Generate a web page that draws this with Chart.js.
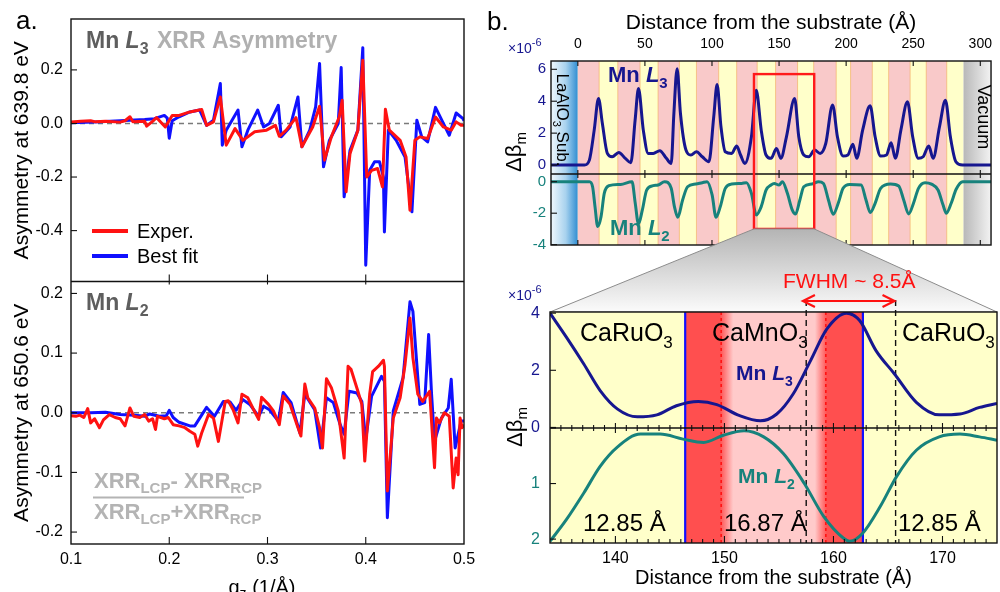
<!DOCTYPE html>
<html>
<head>
<meta charset="utf-8">
<script src="https://cdn.jsdelivr.net/npm/chart.js@4.4.1/dist/chart.umd.min.js"></script>
<style>
  body { margin: 0; background: #fff; }
  #fig { position: relative; width: 1000px; height: 592px; overflow: hidden; }
  #fig canvas { position: absolute; left: 0; top: 0; }
</style>
</head>
<body>
<div id="fig">
  <canvas id="asym" width="1000" height="592"></canvas>
  <canvas id="profile" width="1000" height="592"></canvas>
  <canvas id="closeup" width="1000" height="592"></canvas>
</div>
<script>
// ---- panel a: XRR asymmetry vs q_z ----
const qExpL3 = [0.100,0.110,0.120,0.125,0.135,0.150,0.155,0.160,0.163,0.175,0.177,0.183,0.187,0.190,0.196,0.203,0.210,0.221,0.233,0.238,0.245,0.252,0.258,0.267,0.275,0.287,0.299,0.308,0.312,0.319,0.329,0.335,0.346,0.353,0.358,0.365,0.373,0.376,0.380,0.384,0.392,0.397,0.401,0.406,0.412,0.417,0.420,0.424,0.435,0.441,0.445,0.450,0.455,0.463,0.471,0.479,0.487,0.492,0.497,0.500];
const asymExpL3 = [0.005,0.008,0.010,0.006,0.008,0.005,0.010,0.025,0.006,0.008,-0.010,0.008,0.022,0.010,-0.013,0.030,0.030,0.043,0.052,-0.007,0.006,0.099,-0.081,-0.019,-0.063,-0.031,-0.025,-0.007,-0.048,-0.025,0.022,-0.087,-0.013,0.064,-0.137,-0.050,0.024,0.087,-0.255,-0.112,-0.025,0.236,-0.200,-0.175,-0.168,-0.237,0.053,-0.025,-0.063,-0.125,-0.324,-0.063,-0.050,-0.056,0.024,-0.013,-0.025,0.006,-0.007,-0.007];
const qFitL3 = [0.100,0.130,0.160,0.175,0.185,0.195,0.198,0.200,0.203,0.210,0.221,0.231,0.238,0.245,0.252,0.254,0.258,0.270,0.274,0.280,0.290,0.296,0.302,0.311,0.314,0.323,0.331,0.335,0.343,0.349,0.353,0.357,0.363,0.372,0.375,0.378,0.384,0.392,0.397,0.400,0.404,0.409,0.414,0.418,0.419,0.423,0.431,0.440,0.447,0.452,0.457,0.463,0.471,0.479,0.485,0.492,0.499,0.500];
const asymFitL3 = [0.003,0.006,0.012,0.015,0.018,0.030,0.020,-0.055,0.010,0.025,0.043,0.050,-0.007,0.012,0.149,-0.081,-0.025,0.050,-0.087,-0.025,0.050,-0.013,0.000,0.068,-0.050,-0.013,0.099,-0.087,-0.025,0.062,0.224,-0.162,-0.063,0.000,0.209,-0.274,-0.100,-0.025,0.283,-0.529,-0.175,-0.143,-0.143,-0.200,-0.405,-0.025,-0.063,-0.125,-0.330,0.012,-0.050,-0.069,0.060,0.000,-0.044,0.039,0.018,0.010];
const qExpL2 = [0.100,0.105,0.109,0.113,0.117,0.120,0.124,0.129,0.133,0.139,0.145,0.150,0.155,0.160,0.164,0.170,0.175,0.179,0.183,0.186,0.188,0.195,0.199,0.204,0.210,0.216,0.221,0.226,0.229,0.233,0.240,0.245,0.250,0.257,0.260,0.265,0.270,0.274,0.280,0.285,0.291,0.294,0.301,0.306,0.312,0.316,0.323,0.330,0.334,0.338,0.341,0.348,0.353,0.356,0.360,0.365,0.372,0.378,0.382,0.385,0.392,0.396,0.399,0.404,0.407,0.413,0.418,0.419,0.422,0.428,0.435,0.440,0.445,0.448,0.453,0.458,0.465,0.470,0.472,0.475,0.480,0.485,0.489,0.492,0.494,0.496,0.498,0.500];
const asymExpL2 = [-0.005,-0.006,-0.004,-0.008,0.007,-0.017,-0.010,-0.025,-0.012,-0.003,-0.008,-0.010,-0.022,0.008,-0.006,-0.008,-0.003,-0.014,-0.010,-0.028,-0.006,-0.010,-0.008,-0.020,-0.022,-0.025,-0.031,-0.036,-0.056,-0.034,-0.003,-0.009,-0.048,0.019,0.020,0.005,-0.017,0.031,0.025,0.008,-0.011,0.026,0.014,0.003,-0.020,0.028,0.014,-0.020,-0.039,0.048,0.025,0.008,-0.025,-0.059,0.057,0.042,0.003,-0.076,0.078,0.073,0.036,0.014,-0.081,0.031,0.069,0.078,0.088,0.078,-0.131,-0.009,0.025,0.081,0.159,0.092,0.031,0.019,0.036,-0.092,-0.009,-0.017,0.000,-0.006,-0.126,-0.076,-0.104,-0.009,-0.025,-0.020];
const qFitL2 = [0.100,0.120,0.135,0.150,0.165,0.175,0.180,0.190,0.197,0.200,0.204,0.210,0.221,0.226,0.231,0.238,0.246,0.255,0.262,0.268,0.275,0.282,0.291,0.296,0.302,0.311,0.316,0.324,0.333,0.338,0.348,0.354,0.360,0.367,0.374,0.378,0.383,0.391,0.396,0.400,0.406,0.416,0.419,0.422,0.428,0.438,0.445,0.448,0.455,0.460,0.464,0.467,0.470,0.477,0.484,0.487,0.491,0.497,0.500];
const asymFitL2 = [0.000,0.000,0.001,-0.003,-0.004,-0.006,-0.002,-0.006,-0.005,0.004,-0.008,-0.016,-0.022,-0.022,-0.009,0.009,-0.006,0.019,0.018,0.004,0.022,0.014,-0.006,0.011,0.005,-0.014,0.034,0.017,-0.034,0.031,0.005,-0.059,0.025,0.017,-0.020,-0.036,0.036,0.033,0.019,-0.045,0.028,0.061,0.053,-0.176,0.003,0.059,0.186,0.170,0.014,0.017,0.131,0.031,-0.048,-0.009,0.008,0.056,-0.059,-0.014,-0.014];

// ---- panel b (top): magnetic depth profile, Å ----
const distL3 = [-20,4.9,8.6,12.2,15.4,18.3,22.0,25.6,30.5,35.4,39.5,42.7,45.2,48.8,52.5,56.2,61.1,66.0,69.6,71.6,74.0,76.5,80.6,84.3,88.4,92.8,97.7,101.3,103.8,106.7,109.9,114.7,118.4,121.3,124.5,129.4,133.0,136.7,140.3,144.0,148.1,151.3,155.5,161.6,164.7,168.4,172.1,176.5,180.6,184.8,189.9,193.5,197.7,201.3,205.0,207.9,212.3,217.9,221.6,225.7,230.1,233.5,236.7,240.8,245.7,249.6,253.8,257.4,261.6,264.8,269.6,274.0,277.7,281.8,286.7,308];
const dbL3 = [0,0,0.31,2.19,4.17,2.6,0.73,0.52,0.79,0.42,0.15,2.81,4.79,2.19,0.73,0.73,0.9,0.42,0.1,3.23,6.04,3.23,0.94,0.63,0.83,0.52,0.21,3.02,5.04,2.4,0.83,0.73,1.19,0.63,0.1,1.77,4.69,2.19,0.63,0.42,1.04,0.42,1.77,4.17,1.77,0.63,0.52,0.94,0.73,1.35,3.77,1.77,0.56,0.63,1.31,0.42,2.19,3.71,1.77,0.56,0.63,1.4,0.42,2.19,3.96,1.77,0.42,0.52,1.19,0.42,2.4,4.06,1.77,0.21,0,0];
const distL2 = [-20,8.6,11.0,12.8,14.8,17.3,19.7,23.3,31.9,40.4,42.8,45.2,48.1,51.3,56.2,59.8,64.7,69.6,72.0,74.5,78.1,81.8,87.9,92.8,96.4,100.1,103.0,106.2,109.9,114.7,122.1,125.7,129.4,133.0,136.7,140.3,144.0,146.4,150.0,152.5,156.2,159.8,162.3,165.5,168.4,174.5,179.4,183.1,186.8,190.4,194.1,197.7,202.6,211.2,214.8,218.0,221.6,225.7,233.1,239.2,242.9,246.6,250.2,253.9,258.8,263.6,268.5,272.2,274.7,278.3,282.0,286.9,308];
const dbL2 = [0,0,-0.32,-1.58,-2.85,-2.22,-0.74,-0.25,-0.17,0,-1.37,-2.68,-1.79,-0.53,-0.25,-0.21,0,-0.42,-1.58,-2.26,-1.16,-0.32,-0.15,-0.06,0,-0.84,-2.26,-1.58,-0.42,-0.15,-0.11,-0.06,-0.74,-2.11,-1.58,-0.53,-0.21,-0.11,-0.21,0,-0.74,-1.79,-2.05,-1.16,-0.32,-0.15,0,-0.11,-1.16,-2.07,-1.37,-0.42,-0.17,-0.21,-1.16,-1.96,-1.37,-0.42,-0.15,-0.27,-1.16,-2.05,-1.37,-0.42,-0.06,-0.15,-0.53,-1.47,-2.0,-1.37,-0.48,0,0];
const cmoStart = [0,29.8,59.8,88.4,118.4,147.4,175.8,203.3,231.7,259.7];
const cmoEnd = [15.9,46.4,75.7,105.0,133.7,163.8,192.6,219.5,247.7,275.0];
const filmTop = 287.5;

// ---- panel b (bottom): close-up of one CaMnO3 layer ----
const zDistL3 = [134,135.5,137.1,138.6,140.2,142.0,143.8,145.6,147.6,149.3,151.4,153.3,154.8,156.3,157.9,159.4,161.2,162.4,163.9,165.6,167.6,169.7,171.6,173.4,175];
const zL3 = [4.0,3.16,2.22,1.29,0.64,0.37,0.44,0.76,0.91,0.8,0.41,0.23,0.47,1.17,2.34,3.45,4.0,3.74,2.69,1.87,0.88,0.44,0.47,0.7,0.84];
const zDistL2 = [134,135.5,137.1,138.6,140.2,142.3,144.1,146.2,148.1,149.9,151.8,153.6,155.4,157.3,159.1,160.9,161.5,162.7,164.3,165.8,167.6,169.7,171.6,173.4,175];
const zL2 = [2.04,1.65,1.17,0.69,0.34,0.11,0.11,0.2,0.26,0.13,0.05,0.16,0.46,0.99,1.59,1.98,2.04,1.89,1.41,0.87,0.4,0.16,0.11,0.16,0.22];
const zoomCMO = [146.4, 162.7];
const zoomFade = [149.6, 150.8, 158.3, 159.4];
const redDotted = [149.7, 159.3];
const fwhmMarks = [157.5, 165.7];
const zoomWin = [131.3, 176.2];

const FAM = '"Liberation Sans", Arial, Helvetica, sans-serif';
const F = (size, style = '') => `${style} ${size}px ${FAM}`;
const RED = '#ff1212', BLUE = '#1010ff', NAVY = '#16168f', TEAL = '#17827c';
const YELLOW = '#ffffca', PINK = '#f9c9c9', RED_L = '#ff4f4f', PINK_L = '#ffcaca';
Chart.defaults.font.family = FAM;

const pts = (xs, ys) => xs.map((x, i) => ({x, y: ys[i]}));

function rich(ctx, x, y, parts, opt = {}) {
  ctx.save();
  ctx.translate(x, y);
  if (opt.rot) ctx.rotate(opt.rot);
  let w = 0;
  parts.forEach(p => { ctx.font = p[1]; w += ctx.measureText(p[0]).width; });
  let cx = opt.align === 'center' ? -w / 2 : 0;
  ctx.textBaseline = 'alphabetic';
  ctx.textAlign = 'left';
  ctx.fillStyle = opt.color || '#000';
  parts.forEach(p => {
    ctx.font = p[1];
    ctx.fillText(p[0], cx, p[2] || 0);
    cx += ctx.measureText(p[0]).width;
  });
  ctx.restore();
}

function mnLabel(ctx, x, y, edge, size, color) {
  rich(ctx, x, y, [['Mn ', F(size, 'bold')], ['L', F(size, 'italic bold')],
    [edge, F(Math.round(size * 0.68), 'bold'), size * 0.27]], {color});
}

function seg(ctx, x1, y1, x2, y2) {
  ctx.beginPath(); ctx.moveTo(x1, y1); ctx.lineTo(x2, y2); ctx.stroke();
}

function frame(chart, topId, botId) {
  const {ctx, chartArea: a, scales} = chart;
  ctx.save();
  ctx.strokeStyle = '#111'; ctx.lineWidth = 1.4;
  ctx.strokeRect(a.left, a.top, a.width, a.height);
  seg(ctx, a.left, scales[topId].bottom, a.right, scales[topId].bottom);
  ctx.lineWidth = 1.1;
  [topId, botId].forEach(id => scales[id].ticks.forEach(t => {
    const p = scales[id].getPixelForValue(t.value);
    seg(ctx, a.left, p, a.left + 6, p);
  }));
  ctx.restore();
}

function xMarks(chart, values, marks) {
  const {ctx, scales: {x}} = chart;
  ctx.save();
  ctx.strokeStyle = '#111'; ctx.lineWidth = 1.1;
  values.forEach(v => {
    const p = x.getPixelForValue(v);
    marks.forEach(([y, up, dn]) => seg(ctx, p, y - up, p, y + dn));
  });
  ctx.restore();
}

function yAxis(opt) {
  return Object.assign({
    type: 'linear', position: 'left',
    grid: {display: false, drawTicks: false},
    border: {display: false}
  }, opt);
}

const lineSet = (data, yAxisID, color, smooth) => ({
  data, yAxisID, borderColor: color, borderWidth: 3, pointRadius: 0,
  borderJoinStyle: 'round', fill: false,
  cubicInterpolationMode: smooth ? 'monotone' : 'default', tension: 0
});

const baseOptions = {
  responsive: false, animation: false, events: [],
  plugins: {legend: {display: false}, tooltip: {enabled: false}}
};

// ---------- panel a ----------
const asymDecor = {
  id: 'asymDecor',
  beforeDatasetsDraw(chart) {
    const {ctx, chartArea: a, scales} = chart;
    ctx.save();
    ctx.strokeStyle = '#7a7a7a'; ctx.lineWidth = 1.4; ctx.setLineDash([5, 4]);
    ['yL3', 'yL2'].forEach(id => {
      const y = scales[id].getPixelForValue(0);
      seg(ctx, a.left, y, a.right, y);
    });
    ctx.restore();
  },
  afterDatasetsDraw(chart) {
    frame(chart, 'yL3', 'yL2');
    const {chartArea: a, scales} = chart;
    xMarks(chart, [0.2, 0.3, 0.4], [[scales.yL3.bottom, 7, 3], [a.bottom, 7, 0]]);
  },
  afterDraw(chart) {
    const {ctx} = chart;
    rich(ctx, 16, 29, [['a.', F(26)]]);
    mnLabel(ctx, 86, 48, '3', 23, '#5e5e5e');
    rich(ctx, 157, 48, [['XRR Asymmetry', F(23, 'bold')]], {color: '#b0b0b0'});
    mnLabel(ctx, 86, 310, '2', 23, '#5e5e5e');
    // legend
    ctx.save();
    ctx.lineWidth = 4;
    ctx.strokeStyle = RED; seg(ctx, 92, 231, 128, 231);
    ctx.strokeStyle = BLUE; seg(ctx, 92, 256, 128, 256);
    ctx.restore();
    rich(ctx, 137, 238, [['Exper.', F(20)]]);
    rich(ctx, 137, 263, [['Best fit', F(20)]]);
    // asymmetry definition
    const g = '#b4b4b4', big = F(22, 'bold'), sub = F(15, 'bold');
    rich(ctx, 94, 488, [['XRR', big], ['LCP', sub, 5], ['- ', big], ['XRR', big], ['RCP', sub, 5]], {color: g});
    rich(ctx, 94, 519, [['XRR', big], ['LCP', sub, 5], ['+', big], ['XRR', big], ['RCP', sub, 5]], {color: g});
    ctx.save(); ctx.strokeStyle = g; ctx.lineWidth = 2; seg(ctx, 93, 497.5, 244, 497.5); ctx.restore();
    rich(ctx, 262, 594, [['q', F(20)], ['z', F(14), 4], [' (1/Å)', F(20)]], {align: 'center'});
  }
};

const yTickA = size => ({font: {size}, color: '#000', padding: 8, includeBounds: false, callback: v => v.toFixed(1)});

new Chart(document.getElementById('asym'), {
  type: 'line',
  data: {datasets: [
    lineSet(pts(qExpL3, asymExpL3), 'yL3', RED),
    lineSet(pts(qFitL3, asymFitL3), 'yL3', BLUE),
    lineSet(pts(qExpL2, asymExpL2), 'yL2', RED),
    lineSet(pts(qFitL2, asymFitL2), 'yL2', BLUE)
  ]},
  options: Object.assign({}, baseOptions, {
    layout: {padding: {left: 0, top: 19, right: 536, bottom: 0}},
    scales: {
      x: {type: 'linear', min: 0.1, max: 0.5,
        afterFit: s => { s.height = 48; },
        grid: {display: false, drawTicks: false}, border: {display: false},
        ticks: {stepSize: 0.1, padding: 6, font: {size: 16}, color: '#000', callback: v => v.toFixed(1)}},
      yL2: yAxis({stack: 'a', stackWeight: 1, min: -0.22, max: 0.22,
        afterFit: s => { s.width = 71; },
        ticks: Object.assign(yTickA(16), {stepSize: 0.1}),
        title: {display: true, text: 'Asymmetry at 650.6 eV', font: {size: 21}, color: '#000', padding: {top: 10, bottom: 0}}}),
      yL3: yAxis({stack: 'a', stackWeight: 1, min: -0.59, max: 0.39,
        afterFit: s => { s.width = 71; },
        ticks: Object.assign(yTickA(16), {stepSize: 0.2}),
        title: {display: true, text: 'Asymmetry at 639.8 eV', font: {size: 21}, color: '#000', padding: {top: 10, bottom: 0}}})
    }
  }),
  plugins: [asymDecor]
});

// ---------- panel b, top ----------
const profileDecor = {
  id: 'profileDecor',
  beforeDatasetsDraw(chart) {
    const {ctx, chartArea: a, scales: {x}} = chart;
    const px = v => x.getPixelForValue(v);
    ctx.save();
    let g = ctx.createLinearGradient(a.left, 0, px(0), 0);
    g.addColorStop(0, '#f0f8fd'); g.addColorStop(0.55, '#a8d2ee'); g.addColorStop(1, '#2f8dd2');
    ctx.fillStyle = g; ctx.fillRect(a.left, a.top, px(0) - a.left, a.height);
    ctx.fillStyle = YELLOW; ctx.fillRect(px(0), a.top, px(filmTop) - px(0), a.height);
    ctx.fillStyle = PINK;
    cmoStart.forEach((s, i) => ctx.fillRect(px(s), a.top, px(cmoEnd[i]) - px(s), a.height));
    // thin interface marks at the layer edges
    ctx.strokeStyle = 'rgba(240,165,80,0.55)'; ctx.lineWidth = 1;
    cmoStart.concat(cmoEnd).forEach(v => { if (v > 0) seg(ctx, px(v), a.top, px(v), a.bottom); });
    g = ctx.createLinearGradient(px(filmTop), 0, a.right, 0);
    g.addColorStop(0, '#b8b8b8'); g.addColorStop(1, '#f3f3f3');
    ctx.fillStyle = g; ctx.fillRect(px(filmTop), a.top, a.right - px(filmTop), a.height);
    ctx.restore();
  },
  afterDatasetsDraw(chart) {
    frame(chart, 'yL3', 'yL2');
    const {ctx, chartArea: a, scales} = chart;
    xMarks(chart, scales.x.ticks.map(t => t.value),
      [[a.top, 0, 5], [scales.yL3.bottom, 4, 4], [a.bottom, 5, 0]]);
    const x1 = scales.x.getPixelForValue(zoomWin[0]), x2 = scales.x.getPixelForValue(zoomWin[1]);
    const y1 = scales.yL3.getPixelForValue(5.7), y2 = scales.yL2.getPixelForValue(-3.0);
    ctx.save(); ctx.strokeStyle = '#ff1a1a'; ctx.lineWidth = 2.4;
    ctx.strokeRect(x1, y1, x2 - x1, y2 - y1); ctx.restore();
  },
  afterDraw(chart) {
    const {ctx} = chart;
    rich(ctx, 487, 30, [['b.', F(26)]]);
    rich(ctx, 508, 53, [['×10', F(14)], ['-6', F(11), -7]], {color: NAVY});
    rich(ctx, 521, 152, [['Δβ', F(22)], ['m', F(15), 5]], {rot: -Math.PI / 2, align: 'center'});
    rich(ctx, 557, 120, [['LaAlO', F(17)], ['3', F(11), 4], [' Sub.', F(17)]], {rot: Math.PI / 2, align: 'center'});
    rich(ctx, 978, 117, [['Vacuum', F(18)]], {rot: Math.PI / 2, align: 'center'});
    mnLabel(ctx, 608, 82, '3', 22, NAVY);
    mnLabel(ctx, 610, 235, '2', 22, TEAL);
  }
};

const chartTop = new Chart(document.getElementById('profile'), {
  type: 'line',
  data: {datasets: [
    lineSet(pts(distL3, dbL3), 'yL3', NAVY, true),
    lineSet(pts(distL2, dbL2), 'yL2', TEAL, true)
  ]},
  options: Object.assign({}, baseOptions, {
    layout: {padding: {left: 0, top: 0, right: 1, bottom: 347}},
    scales: {
      x: {type: 'linear', position: 'top', min: -20, max: 308,
        afterFit: s => { s.height = 61; },
        grid: {display: false, drawTicks: false}, border: {display: false},
        ticks: {stepSize: 50, includeBounds: false, padding: 8, font: {size: 14}, color: '#000'},
        title: {display: true, text: 'Distance from the substrate (Å)', font: {size: 21}, color: '#000', padding: {top: 11, bottom: 0}}},
      yL2: yAxis({stack: 'p', stackWeight: 71, min: -4.02, max: 0.49,
        afterFit: s => { s.width = 551; },
        ticks: {stepSize: 2, includeBounds: false, padding: 5, font: {size: 15}, color: TEAL}}),
      yL3: yAxis({stack: 'p', stackWeight: 113, min: -0.56, max: 6.52,
        afterFit: s => { s.width = 551; },
        ticks: {stepSize: 2, includeBounds: false, padding: 5, font: {size: 15}, color: NAVY}})
    }
  }),
  plugins: [profileDecor]
});

// ---------- panel b, close-up ----------
const closeDecor = {
  id: 'closeDecor',
  beforeDraw(chart) {
    const {ctx, chartArea: a} = chart;
    const s = chartTop.scales;
    const x1 = s.x.getPixelForValue(zoomWin[0]), x2 = s.x.getPixelForValue(zoomWin[1]);
    const yTop = s.yL2.getPixelForValue(-3.0);
    ctx.save();
    const g = ctx.createLinearGradient(0, yTop, 0, a.top);
    g.addColorStop(0, '#b4b4b4'); g.addColorStop(1, '#fbfbfb');
    ctx.fillStyle = g; ctx.strokeStyle = '#8c8c8c'; ctx.lineWidth = 1;
    ctx.beginPath();
    ctx.moveTo(x1, yTop); ctx.lineTo(x2, yTop); ctx.lineTo(a.right, a.top); ctx.lineTo(a.left, a.top);
    ctx.closePath(); ctx.fill(); ctx.stroke();
    ctx.restore();
  },
  beforeDatasetsDraw(chart) {
    const {ctx, chartArea: a, scales: {x}} = chart;
    const px = v => x.getPixelForValue(v);
    ctx.save();
    ctx.fillStyle = YELLOW; ctx.fillRect(a.left, a.top, a.width, a.height);
    const l = px(zoomCMO[0]), r = px(zoomCMO[1]);
    const t = v => (px(v) - l) / (r - l);
    const g = ctx.createLinearGradient(l, 0, r, 0);
    g.addColorStop(0, RED_L); g.addColorStop(t(zoomFade[0]), RED_L);
    g.addColorStop(t(zoomFade[1]), PINK_L); g.addColorStop(t(zoomFade[2]), PINK_L);
    g.addColorStop(t(zoomFade[3]), RED_L); g.addColorStop(1, RED_L);
    ctx.fillStyle = g; ctx.fillRect(l, a.top, r - l, a.height);
    ctx.strokeStyle = BLUE; ctx.lineWidth = 2.2;
    zoomCMO.forEach(v => seg(ctx, px(v), a.top, px(v), a.bottom));
    ctx.strokeStyle = RED; ctx.lineWidth = 1.6; ctx.setLineDash([3, 3]);
    redDotted.forEach(v => seg(ctx, px(v), a.top, px(v), a.bottom));
    ctx.strokeStyle = '#111'; ctx.lineWidth = 1.4; ctx.setLineDash([6, 4]);
    fwhmMarks.forEach(v => seg(ctx, px(v), 300, px(v), a.bottom));
    ctx.restore();
  },
  afterDatasetsDraw(chart) {
    frame(chart, 'yL3', 'yL2');
    const {chartArea: a, scales} = chart;
    const minor = [];
    for (let v = 135; v < 175; v++) if (v % 10) minor.push(v);
    xMarks(chart, minor, [[scales.yL3.bottom, 3, 3], [a.bottom, 4, 0]]);
    xMarks(chart, [140, 150, 160, 170], [[scales.yL3.bottom, 5, 5], [a.bottom, 7, 0]]);
  },
  afterDraw(chart) {
    const {ctx, scales: {x}} = chart;
    rich(ctx, 508, 300, [['×10', F(14)], ['-6', F(11), -7]], {color: NAVY});
    rich(ctx, 522, 427, [['Δβ', F(22)], ['m', F(15), 5]], {rot: -Math.PI / 2, align: 'center'});
    const oxide = (px, name) => rich(ctx, px, 341, [[name, F(25)], ['3', F(17), 7]]);
    oxide(580, 'CaRuO'); oxide(712, 'CaMnO'); oxide(902, 'CaRuO');
    mnLabel(ctx, 736, 380, '3', 21, NAVY);
    mnLabel(ctx, 738, 483, '2', 21, TEAL);
    rich(ctx, 583, 531, [['12.85 Å', F(24)]]);
    rich(ctx, 724, 531, [['16.87 Å', F(24)]]);
    rich(ctx, 898, 531, [['12.85 Å', F(24)]]);
    rich(ctx, 783, 288, [['FWHM ~ 8.5Å', F(21)]], {color: RED});
    const xa = x.getPixelForValue(157.2), xb = x.getPixelForValue(165.6), ya = 301;
    ctx.save();
    ctx.strokeStyle = RED; ctx.lineWidth = 2.2; ctx.lineJoin = 'miter';
    seg(ctx, xa, ya, xb, ya);
    ctx.beginPath(); ctx.moveTo(xa + 12, ya - 6); ctx.lineTo(xa, ya); ctx.lineTo(xa + 12, ya + 6); ctx.stroke();
    ctx.beginPath(); ctx.moveTo(xb - 12, ya - 6); ctx.lineTo(xb, ya); ctx.lineTo(xb - 12, ya + 6); ctx.stroke();
    ctx.restore();
  }
};

new Chart(document.getElementById('closeup'), {
  type: 'line',
  data: {datasets: [
    lineSet(pts(zDistL3, zL3), 'yL3', NAVY, true),
    lineSet(pts(zDistL2, zL2), 'yL2', TEAL, true)
  ]},
  options: Object.assign({}, baseOptions, {
    layout: {padding: {left: 0, top: 312, right: 3, bottom: 0}},
    scales: {
      x: {type: 'linear', min: 134, max: 175,
        afterFit: s => { s.height = 49; },
        grid: {display: false, drawTicks: false}, border: {display: false},
        ticks: {stepSize: 10, includeBounds: false, padding: 6, font: {size: 16}, color: '#000'},
        title: {display: true, text: 'Distance from the substrate (Å)', font: {size: 20}, color: '#000', padding: {top: 0, bottom: 2}}},
      yL2: yAxis({stack: 'z', stackWeight: 115, min: 0, max: 2.07, reverse: true,
        afterFit: s => { s.width = 550; },
        ticks: {stepSize: 1, includeBounds: false, padding: 10, font: {size: 16}, color: TEAL,
          callback: v => (v === 0 ? '' : v)}}),
      yL3: yAxis({stack: 'z', stackWeight: 116, min: -0.02, max: 4.04,
        afterFit: s => { s.width = 550; },
        ticks: {stepSize: 2, includeBounds: false, padding: 10, font: {size: 16}, color: NAVY}})
    }
  }),
  plugins: [closeDecor]
});
</script>
</body>
</html>
